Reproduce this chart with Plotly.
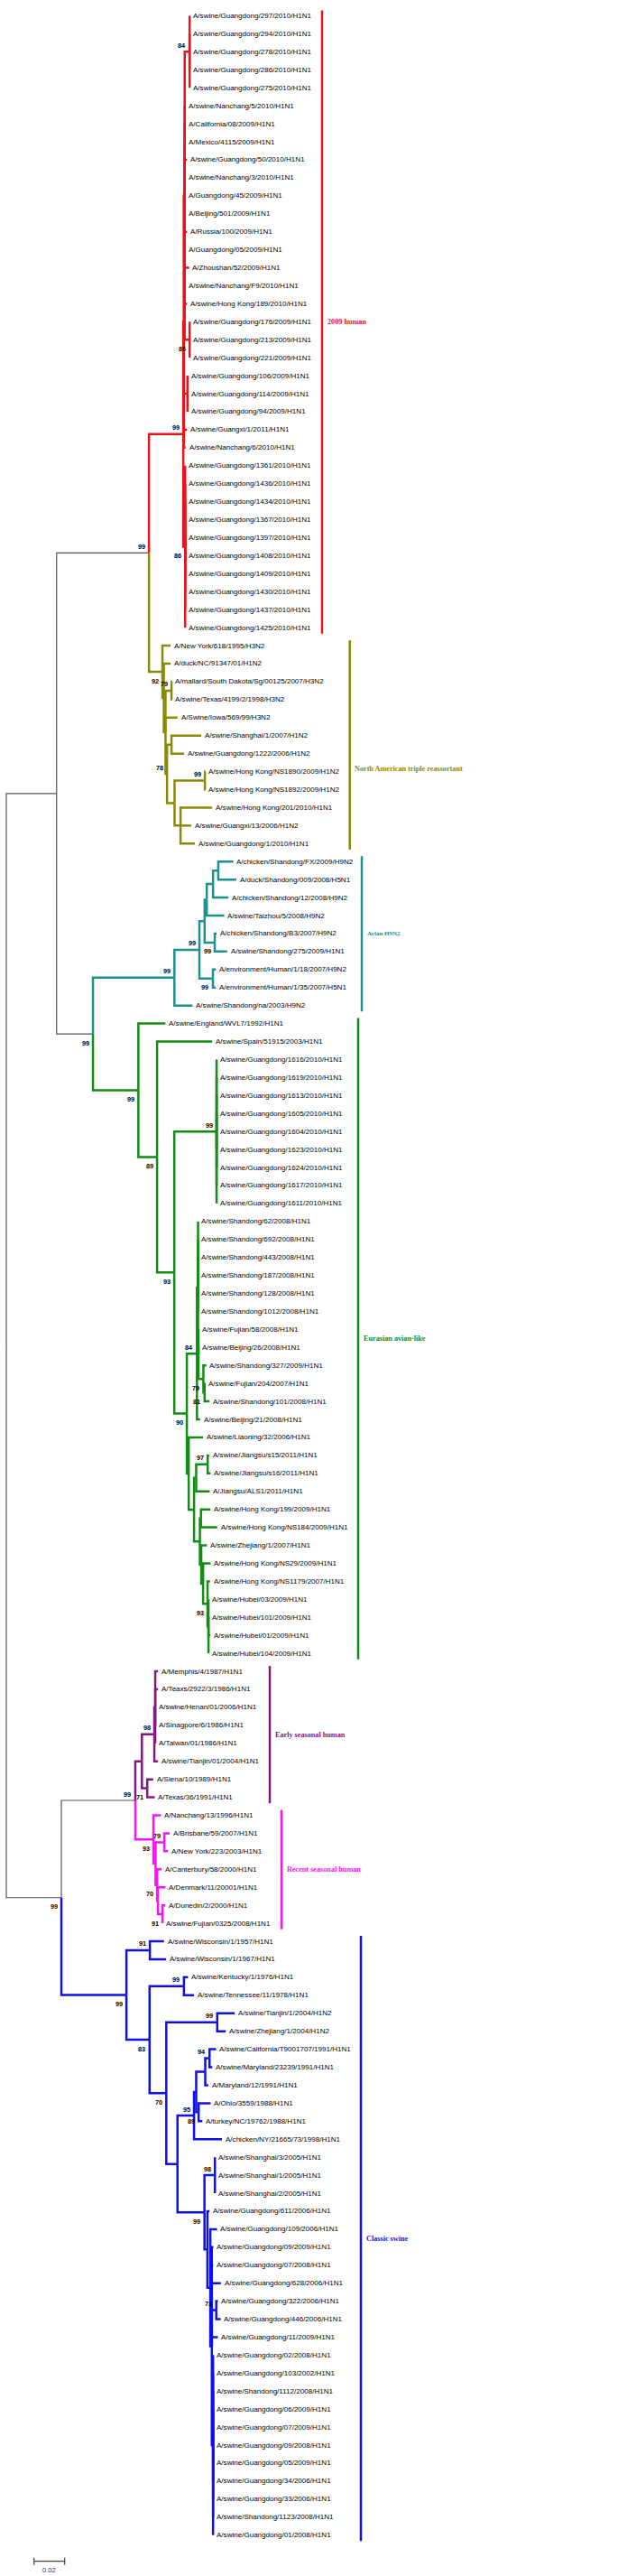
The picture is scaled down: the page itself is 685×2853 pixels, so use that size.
import plotly.graph_objects as go

# ------------------------------------------------------------------ data
CLADE_NAMES = ["2009 human", "North American triple reassortant", "Avian H9N2",
               "Eurasian avian-like", "Early seasonal human", "Recent seasonal human",
               "Classic swine"]
CLADE_COLORS = ["#e8141c", "#8a8a0a", "#1e9090", "#138c13", "#801a80", "#ff10ff", "#1010ee"]
BACKBONE_COLOR = "#555555"

# Newick subtrees (branch lengths = substitutions/site, internal labels = bootstrap, 'v' = label below)
NWK_2009 = (
    "((("
    "(A/swine/Guangdong/297/2010/H1N1:0,A/swine/Guangdong/294/2010/H1N1:0,A/swine/Guangdong/278/2010/H1N1:0,"
    "A/swine/Guangdong/286/2010/H1N1:0,A/swine/Guangdong/275/2010/H1N1:0)84:0.0032,"
    "A/swine/Nanchang/5/2010/H1N1:0,A/California/08/2009/H1N1:0,A/Mexico/4115/2009/H1N1:0,"
    "A/swine/Guangdong/50/2010/H1N1:0.0015,A/swine/Nanchang/3/2010/H1N1:0,A/Guangdong/45/2009/H1N1:0,"
    "A/Beijing/501/2009/H1N1:0,A/Russia/100/2009/H1N1:0.0015,A/Guangdong/05/2009/H1N1:0,"
    "A/Zhoushan/52/2009/H1N1:0.0029,A/swine/Nanchang/F9/2010/H1N1:0,A/swine/Hong Kong/189/2010/H1N1:0.0015,"
    "(A/swine/Guangdong/176/2009/H1N1:0,A/swine/Guangdong/213/2009/H1N1:0,A/swine/Guangdong/221/2009/H1N1:0)86v:0.0032"
    "):0.0006,"
    "(A/swine/Guangdong/106/2009/H1N1:0,A/swine/Guangdong/114/2009/H1N1:0,A/swine/Guangdong/94/2009/H1N1:0):0.0024,"
    "A/swine/Guangxi/1/2011/H1N1:0.0021,A/swine/Nanchang/6/2010/H1N1:0.0012"
    "):0.0003,"
    "(A/swine/Guangdong/1361/2010/H1N1:0,A/swine/Guangdong/1436/2010/H1N1:0,A/swine/Guangdong/1434/2010/H1N1:0,"
    "A/swine/Guangdong/1367/2010/H1N1:0,A/swine/Guangdong/1397/2010/H1N1:0,A/swine/Guangdong/1408/2010/H1N1:0,"
    "A/swine/Guangdong/1409/2010/H1N1:0,A/swine/Guangdong/1430/2010/H1N1:0,A/swine/Guangdong/1437/2010/H1N1:0,"
    "A/swine/Guangdong/1425/2010/H1N1:0)86v:0.0012"
    ")99:0.0224"
)

NWK_NA = (
    "(A/New York/618/1995/H3N2:0.0053,(A/duck/NC/91347/01/H1N2:0.0044,"
    "((A/mallard/South Dakota/Sg/00125/2007/H3N2:0.0003,A/swine/Texas/4199/2/1998/H3N2:0.0003)79:0.0039,"
    "A/Swine/Iowa/569/99/H3N2:0.0078,"
    "((A/swine/Shanghai/1/2007/H1N2:0.0194,A/swine/Guangdong/1222/2006/H1N2:0.0082):0.0029,"
    "((A/swine/Hong Kong/NS1890/2009/H1N2:0.0003,A/swine/Hong Kong/NS1892/2009/H1N2:0.0003)99:0.0198,"
    "(A/swine/Hong Kong/201/2010/H1N1:0.0206,A/swine/Guangxi/13/2006/H1N2:0.0069,"
    "A/swine/Guangdong/1/2010/H1N1:0.0094):0.0039):0.0049)78:0.0010):0.0011):0.0009)92v:0.0088"
)

NWK_AVIAN = (
    "(((((("
    "A/chicken/Shandong/FX/2009/H9N2:0.0098,A/duck/Shandong/009/2008/H5N1:0.0118):0.0034,"
    "A/chicken/Shandong/12/2008/H9N2:0.0100):0.0041,"
    "A/swine/Taizhou/5/2008/H9N2:0.0114):0.0014,"
    "(A/chicken/Shandong/B3/2007/H9N2:0.0012,A/swine/Shandong/275/2009/H1N1:0.0081)99v:0.0066):0.0034,"
    "(A/environment/Human/1/18/2007/H9N2:0.0019,A/environment/Human/1/35/2007/H5N1:0.0019)99v:0.0088)99:0.0163,"
    "A/swine/Shandong/na/2003/H9N2:0.0118)99:0.0531"
)

NWK_EURASIAN = (
    "(A/swine/England/WVL7/1992/H1N1:0.0176,(A/swine/Spain/51915/2003/H1N1:0.0359,"
    "((A/swine/Guangdong/1616/2010/H1N1:0,A/swine/Guangdong/1619/2010/H1N1:0,A/swine/Guangdong/1613/2010/H1N1:0,"
    "A/swine/Guangdong/1605/2010/H1N1:0,A/swine/Guangdong/1604/2010/H1N1:0,A/swine/Guangdong/1623/2010/H1N1:0,"
    "A/swine/Guangdong/1624/2010/H1N1:0,A/swine/Guangdong/1617/2010/H1N1:0,A/swine/Guangdong/1611/2010/H1N1:0)99:0.0276,"
    "((("
    "A/swine/Shandong/62/2008/H1N1:0,A/swine/Shandong/692/2008/H1N1:0,A/swine/Shandong/443/2008/H1N1:0,"
    "A/swine/Shandong/187/2008/H1N1:0,A/swine/Shandong/128/2008/H1N1:0,A/swine/Shandong/1012/2008/H1N1:0,"
    "(A/swine/Fujian/58/2008/H1N1:0,A/swine/Beijing/26/2008/H1N1:0,"
    "(A/swine/Shandong/327/2009/H1N1:0.0019,(A/swine/Fujian/204/2007/H1N1:0.0003,"
    "A/swine/Shandong/101/2008/H1N1:0.0032)81v:0.0008)79v:0.0032):0.0003):0.0007,"
    "A/swine/Beijing/21/2008/H1N1:0.0020)84:0.0066,"
    "(A/swine/Liaoning/32/2006/H1N1:0.0094,"
    "(((A/swine/Jiangsu/s15/2011/H1N1:0.0010,A/swine/Jiangsu/s16/2011/H1N1:0.0019)97:0.0075,"
    "A/Jiangsu/ALS1/2011/H1N1:0.0088):0.0014,"
    "((A/swine/Hong Kong/199/2009/H1N1:0.0062,A/swine/Hong Kong/NS184/2009/H1N1:0.0106):0.0007,"
    "(A/swine/Zhejiang/1/2007/H1N1:0.0037,(A/swine/Hong Kong/NS29/2009/H1N1:0.0049,"
    "(A/swine/Hong Kong/NS1179/2007/H1N1:0.0016,(A/swine/Hubei/03/2009/H1N1:0,A/swine/Hubei/101/2009/H1N1:0,"
    "A/swine/Hubei/01/2009/H1N1:0.0012,A/swine/Hubei/104/2009/H1N1:0):0.0006)93v:0.0029):0.0012):0.0009"
    "):0.0038):0.0035):0.0012)90v:0.0082)93v:0.0112)89v:0.0122)99v:0.0296"
)

NWK_EARLY = (
    "(((A/Memphis/4/1987/H1N1:0.0018,A/Teaxs/2922/3/1986/H1N1:0.0018,A/swine/Henan/01/2006/H1N1:0,"
    "A/Sinagpore/6/1986/H1N1:0,A/Taiwan/01/1986/H1N1:0):0.0006,A/swine/Tianjin/01/2004/H1N1:0.0024)98:0.0081,"
    "(A/Siena/10/1989/H1N1:0.0039,A/Texas/36/1991/H1N1:0.0049)71v:0.0035):0.0043"
)

NWK_RECENT = (
    "(A/Nanchang/13/1996/H1N1:0.0049,((A/Brisbane/59/2007/H1N1:0.0035,A/New York/223/2003/H1N1:0.0024)79:0.0057,"
    "(A/Canterbury/58/2000/H1N1:0.0029,(A/Denmark/11/20001/H1N1:0.0049,"
    "(A/Dunedin/2/2000/H1N1:0.0018,A/swine/Fujian/0325/2008/H1N1:0)91v:0.0029):0.0006)70v:0.0010):0.0014)93v:0.0118"
)

NWK_CLASSIC = (
    "((A/swine/Wisconsin/1/1957/H1N1:0.0092,A/swine/Wisconsin/1/1967/H1N1:0.0106)91:0.0153,"
    "((A/swine/Kentucky/1/1976/H1N1:0.0027,A/swine/Tennessee/11/1978/H1N1:0.0066)99:0.0224,"
    "((A/swine/Tianjin/1/2004/H1N2:0.0114,A/swine/Zhejiang/1/2004/H1N2:0.0056)99:0.0332,"
    "(((((A/swine/California/T9001707/1991/H1N1:0.0043,A/swine/Maryland/23239/1991/H1N1:0.0018)94:0.0028,"
    "A/Maryland/12/1991/H1N1:0.0020):0.0059,"
    "(A/Ohio/3559/1988/H1N1:0.0078,A/turkey/NC/19762/1988/H1N1:0.0024)89v:0.0016):0.0014,"
    "A/chicken/NY/21665/73/1998/H1N1:0.0182)95:0.0108,"
    "((A/swine/Shanghai/3/2005/H1N1:0,A/swine/Shanghai/1/2005/H1N1:0,A/swine/Shanghai/2/2005/H1N1:0)98:0.0068,"
    "(A/swine/Guangdong/611/2006/H1N1:0.0014,(A/swine/Guangdong/109/2006/H1N1:0.0044,"
    "(A/swine/Guangdong/09/2009/H1N1:0.0010,A/swine/Guangdong/07/2008/H1N1:0.0009,"
    "A/swine/Guangdong/628/2006/H1N1:0.0059,"
    "(A/swine/Guangdong/322/2006/H1N1:0.0010,A/swine/Guangdong/446/2006/H1N1:0.0029)73:0.0029,"
    "A/swine/Guangdong/11/2009/H1N1:0.0039,"
    "(A/swine/Guangdong/02/2008/H1N1:0,A/swine/Guangdong/103/2002/H1N1:0,A/swine/Shandong/1112/2008/H1N1:0,"
    "A/swine/Guangdong/06/2009/H1N1:0,A/swine/Guangdong/07/2009/H1N1:0,A/swine/Guangdong/09/2008/H1N1:0,"
    "A/swine/Guangdong/05/2009/H1N1:0,A/swine/Guangdong/34/2006/H1N1:0,A/swine/Guangdong/33/2006/H1N1:0,"
    "A/swine/Shandong/1123/2008/H1N1:0,A/swine/Guangdong/01/2008/H1N1:0):0.0008"
    "):0.0010):0.0019):0.0019)99v:0.0176):0.0073)70v:0.0109)83v:0.0151)99v:0.0424"
)

CLADE_NEWICK = [NWK_2009, NWK_NA, NWK_AVIAN, NWK_EURASIAN, NWK_EARLY, NWK_RECENT, NWK_CLASSIC]
BACKBONE = "(((#0,#1)99:0.0602,(#2,#3)99v:0.0237):0.0328,((#4,#5)99:0.0482,#6)99v:0.0359);"
SCALE_BAR_LENGTH = 0.02
SCALE_BAR_LABEL = "0.02"

# ------------------------------------------------------------------ layout constants (pixels)
W, H = 685, 2853
PX_PER_UNIT = 1700.0
ROOT_PX = 7.0
TOP_PX = 17.5
ROW_PX = 19.93
CLADE_BAR_PX = [357, 387.7, 401, 397, 299, 312, 400]
CLADE_LABEL_DY = [0, 27, 0, 0, 0, 0, 0]
CLADE_LABEL_SIZE = [8.2, 8.2, 7.0, 8.2, 8.2, 8.2, 8.2]
SCALE_PX = (37.7, 2836.7)


def px_x(p):
    return p / PX_PER_UNIT


def px_y(p):
    return p / ROW_PX


def parse_newick(s):
    s = s.strip().rstrip(';')
    pos = 0

    def node():
        nonlocal pos
        n = {'children': [], 'name': '', 'bl': 0.0}
        if s[pos] == '(':
            pos += 1
            while True:
                n['children'].append(node())
                c = s[pos]
                pos += 1
                if c == ')':
                    break
        start = pos
        while pos < len(s) and s[pos] not in ':,()':
            pos += 1
        n['name'] = s[start:pos].strip()
        if pos < len(s) and s[pos] == ':':
            pos += 1
            start = pos
            while pos < len(s) and s[pos] not in ',()':
                pos += 1
            n['bl'] = float(s[start:pos])
        return n

    root = node()
    assert pos == len(s), (pos, len(s))
    return root


def attach(n):
    for i, ch in enumerate(n['children']):
        if not ch['children'] and ch['name'].startswith('#'):
            k = int(ch['name'][1:])
            sub = parse_newick(CLADE_NEWICK[k])
            sub['clade'] = k
            n['children'][i] = sub
        else:
            attach(ch)


tree = parse_newick(BACKBONE)
attach(tree)

leaves = []
clade_nodes = {}


def layout(n, x0, color):
    n['x'] = x0 + n['bl']
    if 'clade' in n:
        color = CLADE_COLORS[n['clade']]
        clade_nodes[n['clade']] = n
    n['color'] = color
    if n['children']:
        for ch in n['children']:
            layout(ch, n['x'], color)
        n['y'] = (n['children'][0]['y'] + n['children'][-1]['y']) / 2.0
        n['ymin'] = min(c['ymin'] for c in n['children'])
        n['ymax'] = max(c['ymax'] for c in n['children'])
    else:
        n['y'] = float(len(leaves))
        n['ymin'] = n['ymax'] = n['y']
        leaves.append(n)


layout(tree, 0.0, BACKBONE_COLOR)

segs = {}
boots = []


def collect(n):
    for ch in n['children']:
        xs, ys = segs.setdefault(ch['color'], ([], []))
        xs.extend([n['x'], n['x'], ch['x'], None])
        ys.extend([n['y'], ch['y'], ch['y'], None])
        collect(ch)
    if n['children'] and n['name']:
        boots.append(n)


collect(tree)

fig = go.Figure()
order = [BACKBONE_COLOR] + [c for c in segs if c != BACKBONE_COLOR]
for col in order:
    if col not in segs:
        continue
    xs, ys = segs[col]
    fig.add_trace(go.Scatter(x=xs, y=ys, mode='lines', hoverinfo='skip',
                             line=dict(color=col, width=1.2 if col == BACKBONE_COLOR else 2.5)))

annotations = []
LEAF_FONT = dict(family="Liberation Sans, Arial, sans-serif", size=8.05, color="#000000")
for lf in leaves:
    annotations.append(dict(x=lf['x'] + px_x(1.8), y=lf['y'], text=lf['name'], showarrow=False,
                            xanchor='left', yanchor='middle', font=LEAF_FONT))

for n in boots:
    val = n['name'].rstrip('v')
    below = n['name'].endswith('v')
    annotations.append(dict(x=n['x'] - px_x(2.5), y=n['y'] + px_y(10 if below else -7),
                            text="<b>%s</b>" % val, showarrow=False, xanchor='right', yanchor='middle',
                            font=dict(family="Liberation Sans, Arial, sans-serif", size=7.3, color="#000")))

for k, name in enumerate(CLADE_NAMES):
    cn = clade_nodes[k]
    bx = px_x(CLADE_BAR_PX[k] - ROOT_PX)
    y0, y1 = cn['ymin'] - 0.3, cn['ymax'] + 0.33
    fig.add_trace(go.Scatter(x=[bx, bx], y=[y0, y1], mode='lines', hoverinfo='skip',
                             line=dict(color=CLADE_COLORS[k], width=2.5)))
    annotations.append(dict(x=bx + px_x(3.5), y=(y0 + y1) / 2 + px_y(CLADE_LABEL_DY[k]),
                            text="<b>%s</b>" % name, showarrow=False, xanchor='left', yanchor='middle',
                            font=dict(family="Liberation Serif, Times New Roman, serif",
                                      size=CLADE_LABEL_SIZE[k], color=CLADE_COLORS[k])))

# scale bar
sx0 = px_x(SCALE_PX[0] - ROOT_PX)
sx1 = sx0 + SCALE_BAR_LENGTH
sy = px_y(SCALE_PX[1] - TOP_PX)
t = px_y(4)
fig.add_trace(go.Scatter(x=[sx0, sx1, None, sx0, sx0, None, sx1, sx1],
                         y=[sy, sy, None, sy - t, sy + t, None, sy - t, sy + t],
                         mode='lines', hoverinfo='skip', line=dict(color="#444", width=1.2)))
annotations.append(dict(x=(sx0 + sx1) / 2, y=sy + px_y(10), text=SCALE_BAR_LABEL, showarrow=False,
                        xanchor='center', yanchor='middle',
                        font=dict(family="Liberation Sans, Arial, sans-serif", size=7.5, color="#333")))

fig.update_layout(
    width=W, height=H, margin=dict(l=0, r=0, t=0, b=0),
    paper_bgcolor="white", plot_bgcolor="white", showlegend=False,
    xaxis=dict(visible=False, range=[px_x(-ROOT_PX), px_x(W - ROOT_PX)], fixedrange=True),
    yaxis=dict(visible=False, range=[px_y(H - TOP_PX), px_y(-TOP_PX)], fixedrange=True),
    annotations=annotations,
)

fig.write_html("out.html", config={"displayModeBar": False},
               post_script="document.body.style.margin='0';document.body.style.overflow='hidden';")
